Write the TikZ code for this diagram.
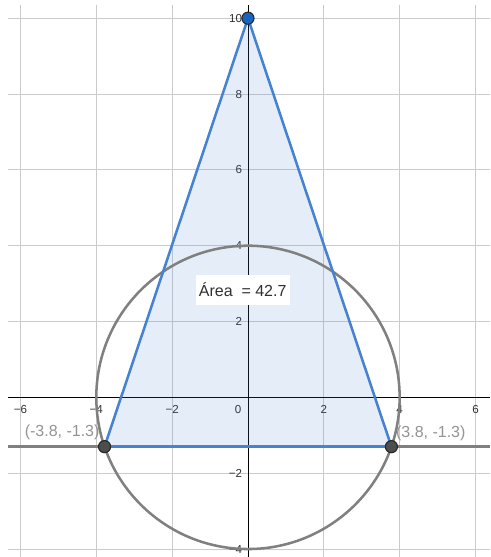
\documentclass[tikz,border=0pt]{standalone}
\usepackage{fontspec}
\newfontfamily\arial{Liberation Sans}
\definecolor{gridc}{HTML}{CBCBCB}
\definecolor{tribl}{HTML}{4582D2}
\definecolor{circg}{HTML}{808080}
\definecolor{ptblue}{HTML}{1A63BE}
\definecolor{ptgray}{HTML}{4D4D4D}
\definecolor{lblg}{HTML}{939393}
\definecolor{tickc}{HTML}{303030}
\tikzset{
  gridline/.style={gridc, line width=0.75pt},
  axisline/.style={black, line width=0.6pt},
  ticklbl/.style={font=\arial\fontsize{8.7}{10}\selectfont, text=tickc, inner sep=0.5pt},
  curve/.style={circg, line width=1.9pt},
  triedge/.style={tribl, line width=1.9pt, line join=round},
  ptnode/.style={circle, draw=black!85, line width=0.8pt, minimum size=0.32cm, inner sep=0pt},
  coordlbl/.style={font=\arial\fontsize{12}{14}\selectfont, text=lblg, inner sep=0pt},
  arealbl/.style={font=\arial\fontsize{12}{14}\selectfont, text=tickc, fill=white, inner xsep=2.5pt, minimum height=0.79cm}
}
\begin{document}
\begin{tikzpicture}
\useasboundingbox (-6.54,-4.21) rectangle (6.39,10.48);
\clip (-6.54,-4.21) rectangle (6.39,10.48);
% grid
\foreach \x in {-6,-4,-2,2,4,6}
  \draw[gridline] (\x,-4.21) -- (\x,10.34);
\foreach \y in {-4,-2,2,4,6,8,10}
  \draw[gridline] (-6.33,\y) -- (6.39,\y);
% axes
\draw[axisline] (-6.33,0) -- (6.39,0);
\draw[axisline] (0,-4.21) -- (0,10.34);
% tick labels
\foreach \x in {-6,-4,-2,2,4,6}
  \node[ticklbl] (tx\x) at (\x,-0.32) {\ifnum\x<0 −\the\numexpr-\x\relax\else\x\fi};
\node[ticklbl] (t0) at (-0.26,-0.32) {0};
\foreach \y in {-4,-2,2,4,6,8,10}
  \node[ticklbl, anchor=east] (ty\y) at (-0.13,\y) {\ifnum\y<0 −\the\numexpr-\y\relax\else\y\fi};
% geometry
\coordinate (A) at (0,10);
\coordinate (B) at (-3.783,-1.3);
\coordinate (C) at (3.783,-1.3);
\fill[tribl, opacity=0.14] (A) -- (B) -- (C) -- cycle;
\draw[curve] (0,0) circle (4);
\draw[curve] (-6.33,-1.3) -- (6.39,-1.3);
\draw[triedge] (A) -- (B) -- (C) -- cycle;
\node[ptnode, fill=ptblue] (PA) at (A) {};
\node[ptnode, fill=ptgray] (PB) at (B) {};
\node[ptnode, fill=ptgray] (PC) at (C) {};
% labels
\node[coordlbl, anchor=east] (LB) at (-3.91,-0.93) {(-3.8, -1.3)};
\node[coordlbl, anchor=west] (LC) at (3.90,-0.96) {(3.8, -1.3)};
\node[arealbl] (area) at (-0.14,2.83) {Área \ = 42.7};
\end{tikzpicture}
\end{document}
